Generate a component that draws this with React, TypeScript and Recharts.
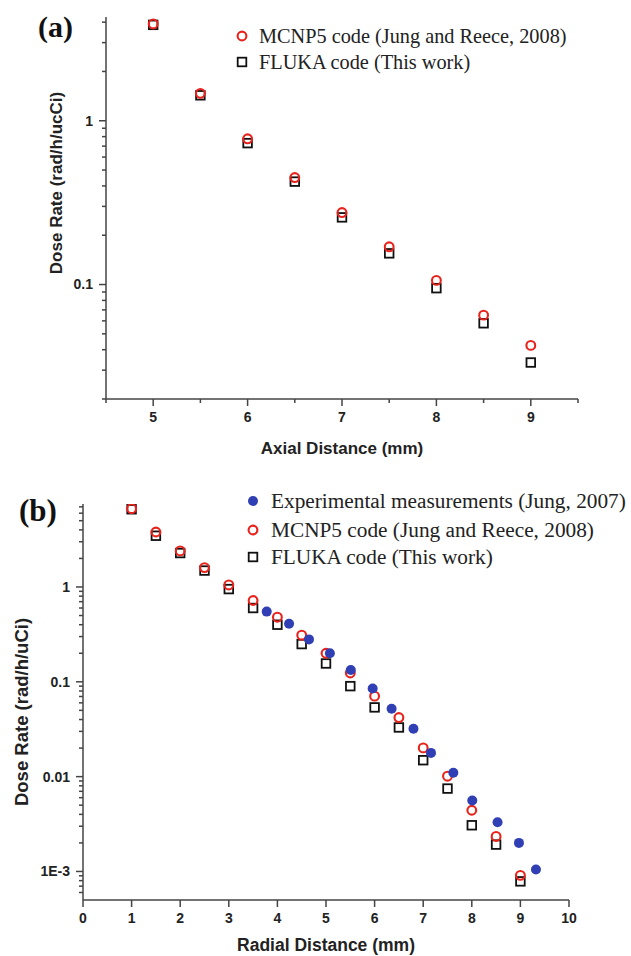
import React from 'react';
import { ScatterChart, Scatter, XAxis, YAxis } from 'recharts';

// ---- panel (a): axial distance ----
const axialX = [5, 5.5, 6, 6.5, 7, 7.5, 8, 8.5, 9];
const axialMcnp = [3.9, 1.47, 0.776, 0.45, 0.275, 0.17, 0.106, 0.065, 0.0425];
const axialFluka = [3.85, 1.43, 0.73, 0.425, 0.257, 0.155, 0.095, 0.058, 0.0334];
const axialXTicks = [4.5, 5, 5.5, 6, 6.5, 7, 7.5, 8, 8.5, 9, 9.5];
const axialYTicks = [0.02, 0.03, 0.04, 0.05, 0.06, 0.07, 0.08, 0.09, 0.1, 0.2, 0.3, 0.4, 0.5, 0.6, 0.7, 0.8, 0.9, 1, 2, 3, 4];

// ---- panel (b): radial distance ----
const radialX = [1, 1.5, 2, 2.5, 3, 3.5, 4, 4.5, 5, 5.5, 6, 6.5, 7, 7.5, 8, 8.5, 9];
const radialMcnp = [6.7, 3.8, 2.4, 1.6, 1.05, 0.72, 0.48, 0.31, 0.2, 0.124, 0.0706, 0.042, 0.0201, 0.0101, 0.00442, 0.00234, 0.00091];
const radialFluka = [6.6, 3.47, 2.28, 1.49, 0.95, 0.6, 0.4, 0.25, 0.156, 0.09, 0.0537, 0.033, 0.0149, 0.00748, 0.00307, 0.00192, 0.000786];
const expX = [3.78, 4.24, 4.65, 5.08, 5.51, 5.96, 6.35, 6.8, 7.16, 7.62, 8.01, 8.53, 8.97, 9.32];
const expY = [0.55, 0.41, 0.28, 0.2, 0.133, 0.085, 0.052, 0.032, 0.0178, 0.011, 0.0056, 0.0033, 0.002, 0.00105];
const radialXTicks = [0, 1, 2, 3, 4, 5, 6, 7, 8, 9, 10];
const radialYTicks = [
  0.0006, 0.0007, 0.0008, 0.0009, 0.001, 0.002, 0.003, 0.004, 0.005, 0.006, 0.007, 0.008, 0.009,
  0.01, 0.02, 0.03, 0.04, 0.05, 0.06, 0.07, 0.08, 0.09, 0.1, 0.2, 0.3, 0.4, 0.5, 0.6, 0.7, 0.8, 0.9,
  1, 2, 3, 4, 5, 6, 7,
];

const RED = '#e8231c';
const BLACK = '#111111';
const BLUE = '#3040b4';
const AXIS = '#444444';

const toPoints = (xs: number[], ys: number[]) => xs.map((x, i) => ({ x, y: ys[i] }));

const yLabels: Record<string, string> = { '0.001': '1E-3', '0.01': '0.01', '0.1': '0.1', '1': '1' };

function YTick(props: any) {
  const { x, y, payload } = props;
  const label = yLabels[String(payload.value)];
  const major = !!label;
  return (
    <g>
      <line x1={x - (major ? 7 : 4)} x2={x} y1={y} y2={y} stroke={AXIS} strokeWidth={1.5} />
      {major && (
        <text x={x - 13} y={y} dy="0.35em" textAnchor="end" fontFamily="Liberation Sans, Arial" fontWeight="bold" fontSize={14} fill="#222">
          {label}
        </text>
      )}
    </g>
  );
}

function XTick(props: any) {
  const { x, y, payload } = props;
  const major = Number.isInteger(payload.value);
  return (
    <g>
      <line x1={x} x2={x} y1={y} y2={y + (major ? 7 : 4)} stroke={AXIS} strokeWidth={1.5} />
      {major && (
        <text x={x} y={y + 23} textAnchor="middle" fontFamily="Liberation Sans, Arial" fontWeight="bold" fontSize={14} fill="#222">
          {payload.value}
        </text>
      )}
    </g>
  );
}

const OpenCircle = (p: any) => <circle cx={p.cx} cy={p.cy} r={4.4} fill="none" stroke={RED} strokeWidth={2.1} />;
const OpenSquare = (p: any) => <rect x={p.cx - 4.3} y={p.cy - 4.3} width={8.6} height={8.6} fill="none" stroke={BLACK} strokeWidth={1.8} />;
const FilledCircle = (p: any) => <circle cx={p.cx} cy={p.cy} r={5} fill={BLUE} />;

const abs = (style: React.CSSProperties): React.CSSProperties => ({ position: 'absolute', whiteSpace: 'nowrap', ...style });

function LegendRow({ x, y, marker, text, size, gap }: { x: number; y: number; marker: string; text: string; size: number; gap: number }) {
  return (
    <div style={abs({ left: x - 6, top: y - 14, height: 28, display: 'flex', alignItems: 'center' })}>
      <svg width={12} height={12} style={{ marginRight: gap }}>
        {marker === 'circle' && <circle cx={6} cy={6} r={4.4} fill="none" stroke={RED} strokeWidth={2.1} />}
        {marker === 'square' && <rect x={1.7} y={1.7} width={8.6} height={8.6} fill="none" stroke={BLACK} strokeWidth={1.8} />}
        {marker === 'dot' && <circle cx={6} cy={6} r={5} fill={BLUE} />}
      </svg>
      <span style={{ fontFamily: 'Liberation Serif, Times New Roman, serif', fontSize: size, color: '#222', lineHeight: '28px' }}>{text}</span>
    </div>
  );
}

const axisTitle: React.CSSProperties = { fontFamily: 'Liberation Sans, Arial', fontWeight: 'bold', color: '#222' };

export default function App() {
  return (
    <div style={{ position: 'absolute', left: 0, top: 0, width: 631, height: 956, background: '#fff' }}>
      {/* panel (a) */}
      <div style={abs({ left: 0, top: 0 })}>
        <ScatterChart width={631} height={470} margin={{ top: 17, right: 53, bottom: 31, left: 46 }}>
          <XAxis
            type="number"
            dataKey="x"
            domain={[4.5, 9.5]}
            ticks={axialXTicks}
            interval={0}
            tick={<XTick />}
            tickSize={0}
            tickMargin={0}
            tickLine={false}
            height={40}
            stroke={AXIS}
            strokeWidth={1.5}
            allowDataOverflow
          />
          <YAxis
            type="number"
            dataKey="y"
            scale="log"
            domain={[0.02, 4.3]}
            ticks={axialYTicks}
            interval={0}
            tick={<YTick />}
            tickSize={0}
            tickMargin={0}
            tickLine={false}
            width={60}
            stroke={AXIS}
            strokeWidth={1.5}
            allowDataOverflow
          />
          <Scatter data={toPoints(axialX, axialFluka)} shape={OpenSquare} isAnimationActive={false} />
          <Scatter data={toPoints(axialX, axialMcnp)} shape={OpenCircle} isAnimationActive={false} />
        </ScatterChart>
      </div>
      <div style={abs({ left: 38, top: 10, fontFamily: 'Liberation Serif, Times New Roman, serif', fontWeight: 'bold', fontSize: 30, color: '#111' })}>(a)</div>
      <LegendRow x={242} y={36} marker="circle" text="MCNP5 code (Jung and Reece, 2008)" size={20.3} gap={11} />
      <LegendRow x={242} y={62} marker="square" text="FLUKA code (This work)" size={20.3} gap={11} />
      <div style={abs({ ...axisTitle, fontSize: 17, left: 57, top: 183, transform: 'translate(-50%, -50%) rotate(-90deg)' })}>Dose Rate (rad/h/ucCi)</div>
      <div style={abs({ ...axisTitle, fontSize: 17, left: 342, top: 449, transform: 'translate(-50%, -50%)' })}>Axial Distance (mm)</div>

      {/* panel (b) */}
      <div style={abs({ left: 0, top: 470 })}>
        <ScatterChart width={631} height={486} margin={{ top: 34, right: 62, bottom: 16, left: 23 }}>
          <XAxis
            type="number"
            dataKey="x"
            domain={[0, 10]}
            ticks={radialXTicks}
            interval={0}
            tick={<XTick />}
            tickSize={0}
            tickMargin={0}
            tickLine={false}
            height={40}
            stroke={AXIS}
            strokeWidth={1.5}
            allowDataOverflow
          />
          <YAxis
            type="number"
            dataKey="y"
            scale="log"
            domain={[0.0005, 7.5]}
            ticks={radialYTicks}
            interval={0}
            tick={<YTick />}
            tickSize={0}
            tickMargin={0}
            tickLine={false}
            width={60}
            stroke={AXIS}
            strokeWidth={1.5}
            allowDataOverflow
          />
          <Scatter data={toPoints(radialX, radialFluka)} shape={OpenSquare} isAnimationActive={false} />
          <Scatter data={toPoints(radialX, radialMcnp)} shape={OpenCircle} isAnimationActive={false} />
          <Scatter data={toPoints(expX, expY)} shape={FilledCircle} isAnimationActive={false} />
        </ScatterChart>
      </div>
      <div style={abs({ left: 19, top: 493, fontFamily: 'Liberation Serif, Times New Roman, serif', fontWeight: 'bold', fontSize: 31, color: '#111' })}>(b)</div>
      <LegendRow x={253} y={501} marker="dot" text="Experimental measurements (Jung, 2007)" size={21.3} gap={12} />
      <LegendRow x={253} y={530} marker="circle" text="MCNP5 code (Jung and Reece, 2008)" size={21.3} gap={12} />
      <LegendRow x={253} y={557} marker="square" text="FLUKA code (This work)" size={21.3} gap={12} />
      <div style={abs({ ...axisTitle, fontSize: 18.5, left: 22, top: 712, transform: 'translate(-50%, -50%) rotate(-90deg)' })}>Dose Rate (rad/h/uCi)</div>
      <div style={abs({ ...axisTitle, fontSize: 17.5, left: 326, top: 945, transform: 'translate(-50%, -50%)' })}>Radial Distance (mm)</div>
    </div>
  );
}
